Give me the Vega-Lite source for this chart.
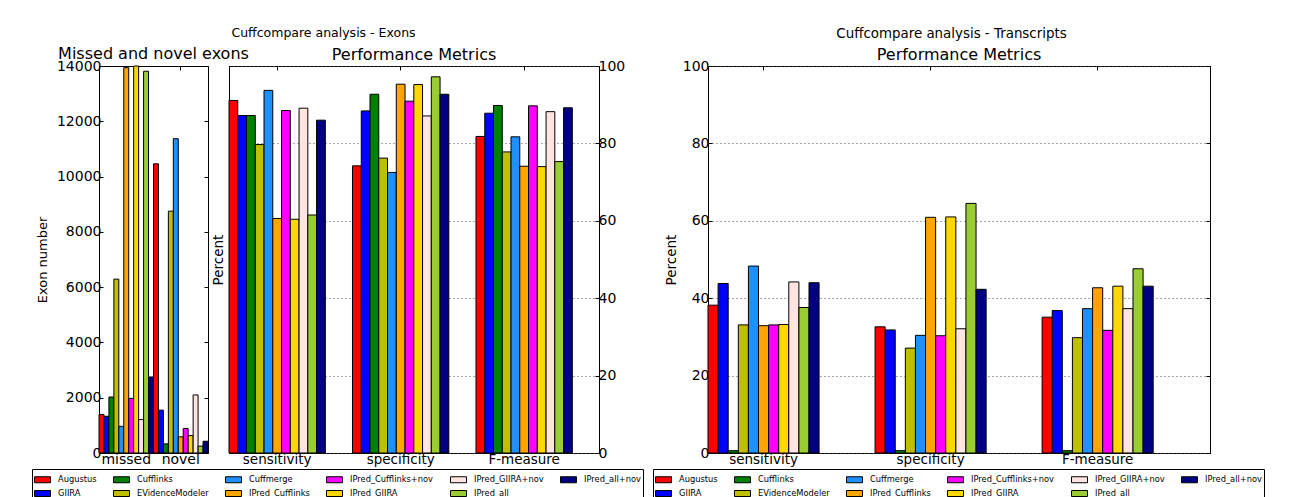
{
  "$schema": "https://vega.github.io/schema/vega-lite/v6.json",
  "background": "white",
  "padding": {"left": 31, "top": 27, "right": 5, "bottom": 5},
  "config": {
    "font": "DejaVu Sans",
    "view": {"stroke": "black", "strokeWidth": 1},
    "axis": {"domain": false, "tickColor": "black", "labelColor": "black", "titleColor": "black", "titleFontWeight": "normal", "grid": false, "labelOverlap": false, "minExtent": 0},
    "legend": {"orient": "none", "direction": "horizontal", "columns": 6, "symbolType": "M-1,-0.375H1V0.375H-1Z", "symbolSize": 256, "symbolStrokeColor": "black", "symbolStrokeWidth": 1, "symbolOpacity": 1, "labelFontSize": 8.3, "labelColor": "black", "strokeColor": "black", "padding": 2, "rowPadding": 0, "columnPadding": 14, "labelOffset": 7},
    "title": {"color": "black", "fontWeight": "normal", "font": "DejaVu Sans"}
  },
  "datasets": {
    "exon_counts": [
      {"category": "missed", "method": "Augustus", "value": 1395},
      {"category": "missed", "method": "GIIRA", "value": 1330},
      {"category": "missed", "method": "Cufflinks", "value": 2025},
      {"category": "missed", "method": "EVidenceModeler", "value": 6290},
      {"category": "missed", "method": "Cuffmerge", "value": 965},
      {"category": "missed", "method": "IPred_Cufflinks", "value": 13940},
      {"category": "missed", "method": "IPred_Cufflinks+nov", "value": 1975},
      {"category": "missed", "method": "IPred_GIIRA", "value": 14000},
      {"category": "missed", "method": "IPred_GIIRA+nov", "value": 1210},
      {"category": "missed", "method": "IPred_all", "value": 13810},
      {"category": "missed", "method": "IPred_all+nov", "value": 2750},
      {"category": "novel", "method": "Augustus", "value": 10460},
      {"category": "novel", "method": "GIIRA", "value": 1550},
      {"category": "novel", "method": "Cufflinks", "value": 330},
      {"category": "novel", "method": "EVidenceModeler", "value": 8750},
      {"category": "novel", "method": "Cuffmerge", "value": 11370},
      {"category": "novel", "method": "IPred_Cufflinks", "value": 585},
      {"category": "novel", "method": "IPred_Cufflinks+nov", "value": 885},
      {"category": "novel", "method": "IPred_GIIRA", "value": 630},
      {"category": "novel", "method": "IPred_GIIRA+nov", "value": 2100},
      {"category": "novel", "method": "IPred_all", "value": 250},
      {"category": "novel", "method": "IPred_all+nov", "value": 425}
    ],
    "exon_perf": [
      {"category": "sensitivity", "method": "Augustus", "value": 91.1},
      {"category": "sensitivity", "method": "GIIRA", "value": 87.2},
      {"category": "sensitivity", "method": "Cufflinks", "value": 87.2},
      {"category": "sensitivity", "method": "EVidenceModeler", "value": 79.7},
      {"category": "sensitivity", "method": "Cuffmerge", "value": 93.7},
      {"category": "sensitivity", "method": "IPred_Cufflinks", "value": 60.6},
      {"category": "sensitivity", "method": "IPred_Cufflinks+nov", "value": 88.5},
      {"category": "sensitivity", "method": "IPred_GIIRA", "value": 60.4},
      {"category": "sensitivity", "method": "IPred_GIIRA+nov", "value": 89.1},
      {"category": "sensitivity", "method": "IPred_all", "value": 61.5},
      {"category": "sensitivity", "method": "IPred_all+nov", "value": 86.0},
      {"category": "specificity", "method": "Augustus", "value": 74.2},
      {"category": "specificity", "method": "GIIRA", "value": 88.4},
      {"category": "specificity", "method": "Cufflinks", "value": 92.7},
      {"category": "specificity", "method": "EVidenceModeler", "value": 76.2},
      {"category": "specificity", "method": "Cuffmerge", "value": 72.5},
      {"category": "specificity", "method": "IPred_Cufflinks", "value": 95.3},
      {"category": "specificity", "method": "IPred_Cufflinks+nov", "value": 90.9},
      {"category": "specificity", "method": "IPred_GIIRA", "value": 95.2},
      {"category": "specificity", "method": "IPred_GIIRA+nov", "value": 87.1},
      {"category": "specificity", "method": "IPred_all", "value": 97.2},
      {"category": "specificity", "method": "IPred_all+nov", "value": 92.7},
      {"category": "F-measure", "method": "Augustus", "value": 81.8},
      {"category": "F-measure", "method": "GIIRA", "value": 87.8},
      {"category": "F-measure", "method": "Cufflinks", "value": 89.8},
      {"category": "F-measure", "method": "EVidenceModeler", "value": 77.8},
      {"category": "F-measure", "method": "Cuffmerge", "value": 81.7},
      {"category": "F-measure", "method": "IPred_Cufflinks", "value": 74.1},
      {"category": "F-measure", "method": "IPred_Cufflinks+nov", "value": 89.7},
      {"category": "F-measure", "method": "IPred_GIIRA", "value": 74.0},
      {"category": "F-measure", "method": "IPred_GIIRA+nov", "value": 88.2},
      {"category": "F-measure", "method": "IPred_all", "value": 75.3},
      {"category": "F-measure", "method": "IPred_all+nov", "value": 89.2}
    ],
    "transcript_perf": [
      {"category": "sensitivity", "method": "Augustus", "value": 38.2},
      {"category": "sensitivity", "method": "GIIRA", "value": 43.8},
      {"category": "sensitivity", "method": "Cufflinks", "value": 0.6},
      {"category": "sensitivity", "method": "EVidenceModeler", "value": 33.1},
      {"category": "sensitivity", "method": "Cuffmerge", "value": 48.3},
      {"category": "sensitivity", "method": "IPred_Cufflinks", "value": 32.9},
      {"category": "sensitivity", "method": "IPred_Cufflinks+nov", "value": 33.1},
      {"category": "sensitivity", "method": "IPred_GIIRA", "value": 33.2},
      {"category": "sensitivity", "method": "IPred_GIIRA+nov", "value": 44.2},
      {"category": "sensitivity", "method": "IPred_all", "value": 37.6},
      {"category": "sensitivity", "method": "IPred_all+nov", "value": 44.0},
      {"category": "specificity", "method": "Augustus", "value": 32.6},
      {"category": "specificity", "method": "GIIRA", "value": 31.8},
      {"category": "specificity", "method": "Cufflinks", "value": 0.6},
      {"category": "specificity", "method": "EVidenceModeler", "value": 27.1},
      {"category": "specificity", "method": "Cuffmerge", "value": 30.4},
      {"category": "specificity", "method": "IPred_Cufflinks", "value": 60.9},
      {"category": "specificity", "method": "IPred_Cufflinks+nov", "value": 30.3},
      {"category": "specificity", "method": "IPred_GIIRA", "value": 61.0},
      {"category": "specificity", "method": "IPred_GIIRA+nov", "value": 32.1},
      {"category": "specificity", "method": "IPred_all", "value": 64.5},
      {"category": "specificity", "method": "IPred_all+nov", "value": 42.3},
      {"category": "F-measure", "method": "Augustus", "value": 35.1},
      {"category": "F-measure", "method": "GIIRA", "value": 36.8},
      {"category": "F-measure", "method": "Cufflinks", "value": 0.6},
      {"category": "F-measure", "method": "EVidenceModeler", "value": 29.8},
      {"category": "F-measure", "method": "Cuffmerge", "value": 37.3},
      {"category": "F-measure", "method": "IPred_Cufflinks", "value": 42.7},
      {"category": "F-measure", "method": "IPred_Cufflinks+nov", "value": 31.7},
      {"category": "F-measure", "method": "IPred_GIIRA", "value": 43.1},
      {"category": "F-measure", "method": "IPred_GIIRA+nov", "value": 37.3},
      {"category": "F-measure", "method": "IPred_all", "value": 47.6},
      {"category": "F-measure", "method": "IPred_all+nov", "value": 43.1}
    ]
  },
  "hconcat": [
    {
      "title": {"text": "Cuffcompare analysis - Exons", "fontSize": 12.5, "offset": 6, "anchor": "middle", "dx": -14},
      "spacing": 21,
      "bounds": "flush",
      "hconcat": [
        {
          "title": {"text": "Missed and novel exons", "fontSize": 16, "frame": "group", "offset": -3},
          "width": 109, "height": 387,
          "data": {"name": "exon_counts"},
          "layer": [
            {
              "mark": {"type": "bar", "stroke": "black", "strokeWidth": 1},
              "encoding": {
                "x": {"field": "category", "type": "nominal", "sort": ["missed", "novel"], "scale": {"paddingInner": 0, "paddingOuter": 0}, "axis": {"title": null, "labelAngle": 0, "labelFontSize": 14, "tickSize": -4, "labelPadding": 3}},
                "xOffset": {"field": "method", "type": "nominal", "sort": ["Augustus", "GIIRA", "Cufflinks", "EVidenceModeler", "Cuffmerge", "IPred_Cufflinks", "IPred_Cufflinks+nov", "IPred_GIIRA", "IPred_GIIRA+nov", "IPred_all", "IPred_all+nov"]},
                "y": {"field": "value", "type": "quantitative", "scale": {"domain": [0, 14000], "nice": false}, "axis": {"title": "Exon number", "titleFontSize": 13, "labelFontSize": 14, "format": "d", "values": [0, 2000, 4000, 6000, 8000, 10000, 12000, 14000], "tickSize": -4, "labelPadding": 2, "titlePadding": 7}},
                "color": {"field": "method", "type": "nominal", "scale": {"domain": ["Augustus", "Cufflinks", "Cuffmerge", "IPred_Cufflinks+nov", "IPred_GIIRA+nov", "IPred_all+nov", "GIIRA", "EVidenceModeler", "IPred_Cufflinks", "IPred_GIIRA", "IPred_all"], "range": ["#ff0000", "#008000", "#1e90ff", "#ff00ff", "#ffe4e1", "#000080", "#0000ff", "#bfbf00", "#ffa500", "#ffd700", "#9acd32"]}, "legend": {"title": null, "legendX": -67, "legendY": 403}}
              }
            },
            {
              "mark": {"type": "bar", "opacity": 0},
              "encoding": {
                "x": {"field": "category", "type": "nominal", "sort": ["missed", "novel"], "scale": {"paddingInner": 0, "paddingOuter": 0}, "axis": {"orient": "top", "title": null, "labels": false, "tickSize": -4, "labelPadding": 0}},
                "xOffset": {"field": "method", "type": "nominal", "sort": ["Augustus", "GIIRA", "Cufflinks", "EVidenceModeler", "Cuffmerge", "IPred_Cufflinks", "IPred_Cufflinks+nov", "IPred_GIIRA", "IPred_GIIRA+nov", "IPred_all", "IPred_all+nov"]},
                "y": {"field": "value", "type": "quantitative", "scale": {"domain": [0, 14000], "nice": false}, "axis": {"orient": "right", "title": null, "labels": false, "values": [0, 2000, 4000, 6000, 8000, 10000, 12000, 14000], "tickSize": -4, "labelPadding": 0}},
                "color": {"field": "method", "type": "nominal", "legend": {"title": null}}
              }
            }
          ],
          "resolve": {"axis": {"x": "independent", "y": "independent"}}
        },
        {
          "title": {"text": "Performance Metrics", "fontSize": 16, "frame": "group", "offset": -4},
          "width": 370, "height": 387,
          "data": {"name": "exon_perf"},
          "layer": [
            {
              "mark": {"type": "bar", "stroke": "black", "strokeWidth": 1},
              "encoding": {
                "x": {"field": "category", "type": "nominal", "sort": ["sensitivity", "specificity", "F-measure"], "scale": {"paddingInner": 0.22, "paddingOuter": 0.108, "align": 0}, "axis": {"title": null, "labelAngle": 0, "labelFontSize": 13.5, "tickSize": -4, "labelPadding": 3}},
                "xOffset": {"field": "method", "type": "nominal", "sort": ["Augustus", "GIIRA", "Cufflinks", "EVidenceModeler", "Cuffmerge", "IPred_Cufflinks", "IPred_Cufflinks+nov", "IPred_GIIRA", "IPred_GIIRA+nov", "IPred_all", "IPred_all+nov"]},
                "y": {"field": "value", "type": "quantitative", "scale": {"domain": [0, 100], "nice": false}, "axis": {"title": "Percent", "titleFontSize": 13.5, "labels": false, "values": [0, 20, 40, 60, 80, 100], "tickSize": -4, "labelPadding": 0, "titlePadding": 3, "grid": true, "gridDash": [1, 3], "gridColor": "#555555", "gridWidth": 1}},
                "color": {"field": "method", "type": "nominal", "legend": {"title": null}}
              }
            },
            {
              "mark": {"type": "bar", "opacity": 0},
              "encoding": {
                "x": {"field": "category", "type": "nominal", "sort": ["sensitivity", "specificity", "F-measure"], "scale": {"paddingInner": 0.22, "paddingOuter": 0.108, "align": 0}, "axis": {"orient": "top", "title": null, "labels": false, "tickSize": -4, "labelPadding": 0}},
                "xOffset": {"field": "method", "type": "nominal", "sort": ["Augustus", "GIIRA", "Cufflinks", "EVidenceModeler", "Cuffmerge", "IPred_Cufflinks", "IPred_Cufflinks+nov", "IPred_GIIRA", "IPred_GIIRA+nov", "IPred_all", "IPred_all+nov"]},
                "y": {"field": "value", "type": "quantitative", "scale": {"domain": [0, 100], "nice": false}, "axis": {"orient": "right", "title": null, "labelFontSize": 14, "values": [0, 20, 40, 60, 80, 100], "tickSize": -4, "labelPadding": 3}},
                "color": {"field": "method", "type": "nominal", "legend": {"title": null}}
              }
            }
          ],
          "resolve": {"axis": {"x": "independent", "y": "independent"}}
        }
      ],
      "resolve": {"scale": {"xOffset": "independent"}}
    },
    {
      "title": {"text": "Cuffcompare analysis - Transcripts", "fontSize": 13.4, "offset": 6, "anchor": "middle", "dx": -7},
      "hconcat": [
        {
          "title": {"text": "Performance Metrics", "fontSize": 16, "frame": "group", "offset": -4},
          "width": 502, "height": 387,
          "data": {"name": "transcript_perf"},
          "layer": [
            {
              "mark": {"type": "bar", "stroke": "black", "strokeWidth": 1},
              "encoding": {
                "x": {"field": "category", "type": "nominal", "sort": ["sensitivity", "specificity", "F-measure"], "scale": {"paddingInner": 0.335, "paddingOuter": 0.17, "align": 0}, "axis": {"title": null, "labelAngle": 0, "labelFontSize": 13.5, "tickSize": -4, "labelPadding": 3}},
                "xOffset": {"field": "method", "type": "nominal", "sort": ["Augustus", "GIIRA", "Cufflinks", "EVidenceModeler", "Cuffmerge", "IPred_Cufflinks", "IPred_Cufflinks+nov", "IPred_GIIRA", "IPred_GIIRA+nov", "IPred_all", "IPred_all+nov"]},
                "y": {"field": "value", "type": "quantitative", "scale": {"domain": [0, 100], "nice": false}, "axis": {"title": "Percent", "titleFontSize": 13.5, "labelFontSize": 14, "values": [0, 20, 40, 60, 80, 100], "tickSize": -4, "labelPadding": 3, "titlePadding": 4, "grid": true, "gridDash": [1, 3], "gridColor": "#555555", "gridWidth": 1}},
                "color": {"field": "method", "type": "nominal", "scale": {"domain": ["Augustus", "Cufflinks", "Cuffmerge", "IPred_Cufflinks+nov", "IPred_GIIRA+nov", "IPred_all+nov", "GIIRA", "EVidenceModeler", "IPred_Cufflinks", "IPred_GIIRA", "IPred_all"], "range": ["#ff0000", "#008000", "#1e90ff", "#ff00ff", "#ffe4e1", "#000080", "#0000ff", "#bfbf00", "#ffa500", "#ffd700", "#9acd32"]}, "legend": {"title": null, "legendX": -55, "legendY": 403}}
              }
            },
            {
              "mark": {"type": "bar", "opacity": 0},
              "encoding": {
                "x": {"field": "category", "type": "nominal", "sort": ["sensitivity", "specificity", "F-measure"], "scale": {"paddingInner": 0.335, "paddingOuter": 0.17, "align": 0}, "axis": {"orient": "top", "title": null, "labels": false, "tickSize": -4, "labelPadding": 0}},
                "xOffset": {"field": "method", "type": "nominal", "sort": ["Augustus", "GIIRA", "Cufflinks", "EVidenceModeler", "Cuffmerge", "IPred_Cufflinks", "IPred_Cufflinks+nov", "IPred_GIIRA", "IPred_GIIRA+nov", "IPred_all", "IPred_all+nov"]},
                "y": {"field": "value", "type": "quantitative", "scale": {"domain": [0, 100], "nice": false}, "axis": {"orient": "right", "title": null, "labels": false, "values": [0, 20, 40, 60, 80, 100], "tickSize": -4, "labelPadding": 0}},
                "color": {"field": "method", "type": "nominal", "legend": {"title": null}}
              }
            }
          ],
          "resolve": {"axis": {"x": "independent", "y": "independent"}}
        }
      ]
    }
  ],
  "spacing": 8,
  "resolve": {"scale": {"color": "independent", "xOffset": "independent"}}
}
